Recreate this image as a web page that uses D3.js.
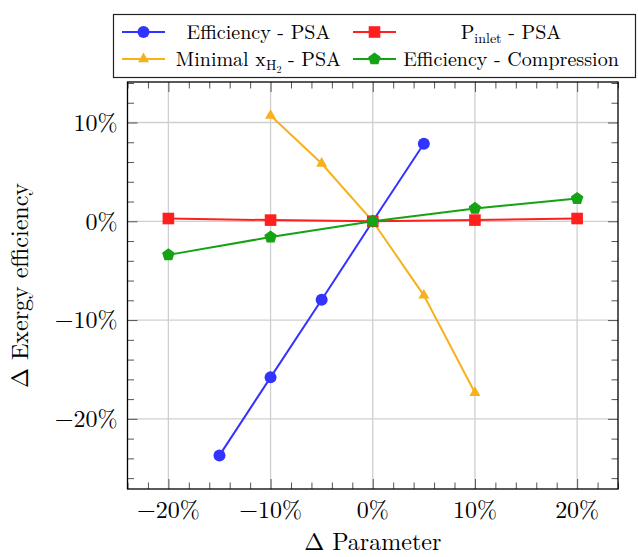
<!DOCTYPE html>
<html>
<head>
<meta charset="utf-8">
<script src="https://cdn.jsdelivr.net/npm/d3@7"></script>
<style>
  body { margin: 0; background: #fff; }
  svg { display: block; font-family: "Latin Modern Roman", "CMU Serif", "Liberation Serif", serif; }
</style>
</head>
<body>
<div id="chart"></div>
<script>
// data (percent)
var effPsaX = [-15, -10, -5, 0, 5];
var effPsaY = [-23.7, -15.8, -7.95, 0, 7.85];

var pInletX = [-20, -10, 0, 10, 20];
var pInletY = [0.28, 0.12, 0, 0.12, 0.28];

var minXhX = [-10, -5, 0, 5, 10];
var minXhY = [10.7, 5.85, 0, -7.5, -17.35];

var effCompX = [-20, -10, 0, 10, 20];
var effCompY = [-3.4, -1.6, 0, 1.3, 2.3];

var xTicks = [-20, -10, 0, 10, 20];
var yTicks = [-20, -10, 0, 10];

var width = 638;
var height = 557;
var margin = { top: 82, right: 20, bottom: 68, left: 127.5 };

function zip(xs, ys) {
    return xs.map(function (x, i) { return { x: x, y: ys[i] }; });
}

var series = [
    { name: "effPsa", data: zip(effPsaX, effPsaY), color: "#3333ff", mark: "circle" },
    { name: "pInlet", data: zip(pInletX, pInletY), color: "#ff1f1f", mark: "square" },
    { name: "minXh", data: zip(minXhX, minXhY), color: "#f7b11c", mark: "triangle" },
    { name: "effComp", data: zip(effCompX, effCompY), color: "#14a314", mark: "pentagon" }
];

var x = d3.scaleLinear()
    .domain([-24, 24])
    .range([margin.left, width - margin.right]);

var y = d3.scaleLinear()
    .domain([-27.1, 14.1])
    .range([height - margin.bottom, margin.top]);

function pct(d) {
    return (d < 0 ? "\u2212" + Math.abs(d) : d) + "%";
}

// marker paths, centred on 0,0
function markPath(type) {
    if (type == "circle") return d3.symbol(d3.symbolCircle, Math.PI * 6 * 6)();
    if (type == "square") return "M-5.8,-5.8H5.8V5.8H-5.8Z";
    if (type == "triangle") {
        var r = 6.4;
        return "M0," + (-r) + "L" + (r * Math.sqrt(3) / 2) + "," + (r / 2) + "L" + (-r * Math.sqrt(3) / 2) + "," + (r / 2) + "Z";
    }
    // pentagon
    var pr = 6.6, pts = [];
    for (var i = 0; i < 5; i++) {
        var a = -Math.PI / 2 + i * 2 * Math.PI / 5;
        pts.push([pr * Math.cos(a), pr * Math.sin(a)]);
    }
    return "M" + pts.map(function (p) { return p[0].toFixed(2) + "," + p[1].toFixed(2); }).join("L") + "Z";
}

var svg = d3.select("#chart").append("svg")
    .attr("width", width)
    .attr("height", height);

var x0 = margin.left, x1 = width - margin.right;
var y0 = margin.top, y1 = height - margin.bottom;

// grid
svg.append("g")
    .selectAll("line.gx")
    .data(xTicks)
    .join("line")
    .attr("x1", d => x(d)).attr("x2", d => x(d))
    .attr("y1", y0).attr("y2", y1)
    .attr("stroke", "#cfcfcf").attr("stroke-width", 1.3);

svg.append("g")
    .selectAll("line.gy")
    .data(yTicks)
    .join("line")
    .attr("x1", x0).attr("x2", x1)
    .attr("y1", d => y(d)).attr("y2", d => y(d))
    .attr("stroke", "#cfcfcf").attr("stroke-width", 1.3);

// ticks (inward, on all four sides)
var xMinor = d3.range(-24, 24.01, 2).filter(d => xTicks.indexOf(d) < 0);
var yMinor = d3.range(-26, 14.01, 2).filter(d => yTicks.indexOf(d) < 0);

function tickAxis(axis, vals, len) {
    return function (g) {
        g.call(axis.tickValues(vals).tickSize(-len).tickFormat(""));
        g.select(".domain").remove();
        g.selectAll(".tick line").attr("stroke", "#555").attr("stroke-width", 1);
    };
}

svg.append("g").attr("transform", `translate(0,${y1})`).call(tickAxis(d3.axisBottom(x), xTicks, 10));
svg.append("g").attr("transform", `translate(0,${y0})`).call(tickAxis(d3.axisTop(x), xTicks, 10));
svg.append("g").attr("transform", `translate(${x0},0)`).call(tickAxis(d3.axisLeft(y), yTicks, 10));
svg.append("g").attr("transform", `translate(${x1},0)`).call(tickAxis(d3.axisRight(y), yTicks, 10));

svg.append("g").attr("transform", `translate(0,${y1})`).call(tickAxis(d3.axisBottom(x), xMinor, 6.5));
svg.append("g").attr("transform", `translate(0,${y0})`).call(tickAxis(d3.axisTop(x), xMinor, 6.5));
svg.append("g").attr("transform", `translate(${x0},0)`).call(tickAxis(d3.axisLeft(y), yMinor, 6.5));
svg.append("g").attr("transform", `translate(${x1},0)`).call(tickAxis(d3.axisRight(y), yMinor, 6.5));

// tick labels
svg.append("g")
    .selectAll("text")
    .data(xTicks)
    .join("text")
    .attr("x", d => x(d))
    .attr("y", y1 + 29)
    .attr("text-anchor", "middle")
    .attr("font-size", 24)
    .text(pct);

svg.append("g")
    .selectAll("text")
    .data(yTicks)
    .join("text")
    .attr("x", x0 - 10)
    .attr("y", d => y(d))
    .attr("dy", "0.35em")
    .attr("text-anchor", "end")
    .attr("font-size", 24)
    .text(pct);

// frame
svg.append("rect")
    .attr("x", x0).attr("y", y0)
    .attr("width", x1 - x0).attr("height", y1 - y0)
    .attr("fill", "none").attr("stroke", "#000").attr("stroke-width", 1.3);

// series
var line = d3.line()
    .x(function (d) { return x(d.x) })
    .y(function (d) { return y(d.y) });

var plot = svg.append("g");
series.forEach(function (s) {
    plot.append("path")
        .datum(s.data)
        .attr("fill", "none")
        .attr("stroke", s.color)
        .attr("stroke-width", 2)
        .attr("d", line);
});
series.forEach(function (s) {
    plot.append("g")
        .selectAll("path")
        .data(s.data)
        .join("path")
        .attr("transform", d => `translate(${x(d.x)},${y(d.y)})`)
        .attr("d", markPath(s.mark))
        .attr("fill", s.color);
});

// axis titles
svg.append("text")
    .attr("x", (x0 + x1) / 2)
    .attr("y", 550)
    .attr("text-anchor", "middle")
    .attr("font-size", 24)
    .text("\u0394 Parameter");

svg.append("text")
    .attr("transform", `translate(28,${(y0 + y1) / 2}) rotate(-90)`)
    .attr("text-anchor", "middle")
    .attr("font-size", 24)
    .text("\u0394 Exergy efficiency");

// legend
var leg = svg.append("g");
leg.append("rect")
    .attr("x", 113.5).attr("y", 14.5)
    .attr("width", 522).attr("height", 63)
    .attr("fill", "#fff").attr("stroke", "#222").attr("stroke-width", 1.2);

var legRows = [32, 59];
var legCols = [{ lx: 122, tx: 258.5 }, { lx: 353, tx: 511 }];

series.forEach(function (s, i) {
    var col = legCols[i % 2], row = legRows[Math.floor(i / 2)];
    leg.append("line")
        .attr("x1", col.lx).attr("x2", col.lx + 43)
        .attr("y1", row).attr("y2", row)
        .attr("stroke", s.color).attr("stroke-width", 2);
    leg.append("path")
        .attr("transform", `translate(${col.lx + 21.5},${row})`)
        .attr("d", markPath(s.mark))
        .attr("fill", s.color);
});

function legText(i) {
    var col = legCols[i % 2], row = legRows[Math.floor(i / 2)];
    return leg.append("text")
        .attr("x", col.tx)
        .attr("y", row + 7)
        .attr("text-anchor", "middle")
        .attr("font-size", 20);
}

legText(0).text("Efficiency - PSA");

var t1 = legText(1);
t1.append("tspan").text("P");
t1.append("tspan").attr("font-size", 14).attr("dy", 4).text("inlet");
t1.append("tspan").attr("dy", -4).text(" - PSA");

var t2 = legText(2);
t2.append("tspan").text("Minimal x");
t2.append("tspan").attr("font-size", 14).attr("dy", 4).text("H");
t2.append("tspan").attr("font-size", 10).attr("dy", 3).text("2");
t2.append("tspan").attr("dy", -7).text(" - PSA");

legText(3).text("Efficiency - Compression");
</script>
</body>
</html>
